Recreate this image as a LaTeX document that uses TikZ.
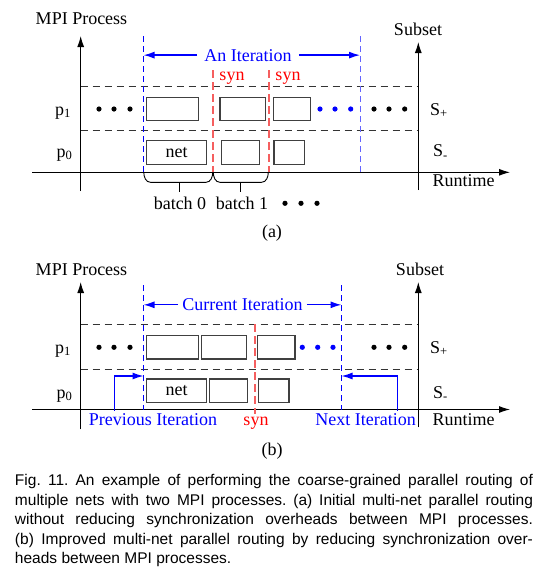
\documentclass[tikz,border=0pt]{standalone}
\usepackage{fontspec}
\setmainfont{Liberation Serif}
\newfontfamily\capfont{Liberation Sans}
\usetikzlibrary{arrows.meta,positioning}

\definecolor{synred}{RGB}{245,95,95}
\definecolor{lightblue}{RGB}{100,100,255}

\tikzset{
  box/.style={draw=black!75,line width=1.1pt,inner sep=0pt,minimum height=23.7pt},
  grid/.style={draw=black!80,line width=0.9pt,dash pattern=on 7pt off 5pt},
  axis/.style={line width=1pt,-{Latex[length=11pt,width=7pt]}},
  iterline/.style={draw=blue,line width=1pt,dash pattern=on 6pt off 4pt},
  synline/.style={draw=synred,line width=1.1pt,dash pattern=on 8pt off 4pt},
  iterarrow/.style={blue,line width=1.3pt,-{Latex[length=11pt,width=7pt]}},
  lbl/.style={anchor=base,inner sep=0pt},
}

\begin{document}
\begin{tikzpicture}[x=1pt,y=-1pt,font=\fontsize{18}{20}\selectfont]
\useasboundingbox (0,0) rectangle (551,574);

%%% (a)
\coordinate (La) at (80.7,191);  \coordinate (Lat) at (80.7,36);
\coordinate (Ra) at (418.3,190); \coordinate (Rat) at (418.3,42);
\coordinate (Ta) at (32,172.3);  \coordinate (Tat) at (510,172.3);
\draw[axis] (La) -- (Lat);
\draw[axis] (Ra) -- (Rat);
\draw[axis] (Ta) -- (Tat);
\draw[grid] (80.7,86) -- (418.3,86);
\draw[grid] (80.7,130.7) -- (418.3,130.7);

\node[lbl] (mpiA) at (81.5,24) {MPI Process};
\node[lbl] (subA) at (418,35) {Subset};
\node[lbl,anchor=base west] (p1A) at (55,115) {p\textsubscript{1}};
\node[lbl,anchor=base west] (p0A) at (56.5,157.3) {p\textsubscript{0}};
\node[lbl,anchor=base west] (spA) at (430,115) {S\textsubscript{+}};
\node[lbl,anchor=base west] (smA) at (433,156.7) {S\textsubscript{-}};
\node[lbl] (rtA) at (463.5,186.7) {Runtime};

% iteration bounds and sync points
\coordinate (b1a) at (143.5,36);  \draw[iterline] (b1a) -- (b1a |- Ta);
\coordinate (b2a) at (360,36);    \draw[iterline,draw=lightblue] (b2a) -- (b2a |- Ta);
\coordinate (s1a) at (213,70);    \draw[synline] (s1a) -- (s1a |- Ta);
\coordinate (s2a) at (269,70);    \draw[synline] (s2a) -- (s2a |- Ta);
\node[lbl,blue,inner xsep=7pt] (iterA) at (248,61) {An Iteration};
\draw[iterarrow] (iterA.west) -- (iterA.west -| b1a);
\draw[iterarrow] (iterA.east) -- (iterA.east -| b2a);
\node[lbl,red] (syn1A) at (232,80) {syn};
\node[lbl,red] (syn2A) at (288,80) {syn};

% nets
\node[box,minimum width=51.6pt] (a11) at (172.5,109) {};
\node[box,minimum width=45.7pt] (a12) at (242.8,109) {};
\node[box,minimum width=36.7pt] (a13) at (291.7,109) {};
\node[box,minimum width=60pt] (a01) at (176.6,152.5) {net};
\node[box,minimum width=38.2pt] (a02) at (240.6,152.5) {};
\node[box,minimum width=30.6pt] (a03) at (289.3,152.5) {};
\foreach \x in {99,114,130,374,389,404.7} \fill (\x,109) circle (2.6pt);
\foreach \x in {320,335,350.7} \fill[blue] (\x,109) circle (2.6pt);

% batches
\draw[line width=0.9pt] (143.8,172.3) to[out=-90,in=180] (150.5,182.3) -- (206,182.3) to[out=0,in=-90] (212.7,172.3);
\draw[line width=0.9pt] (213.3,172.3) to[out=-90,in=180] (220,182.3) -- (261.5,182.3) to[out=0,in=-90] (268.3,172.3);
\draw[line width=0.9pt] (179,182.3) -- (179,191.7);
\draw[line width=1.1pt] (240.7,182.3) -- (240.7,191.7);
\node[lbl] (bt0) at (180,209.3) {batch 0};
\node[lbl] (bt1) at (242,209.3) {batch 1};
\foreach \x in {285,301,317} \fill (\x,203.3) circle (2.6pt);
\node[lbl] (capA) at (272,237.3) {(a)};

%%% (b)
\coordinate (Lb) at (80.7,429.3);  \coordinate (Lbt) at (80.7,282);
\coordinate (Rb) at (418.3,427.3); \coordinate (Rbt) at (418.3,282);
\coordinate (Tb) at (32,409.5);    \coordinate (Tbt) at (510,409.5);
\draw[axis] (Lb) -- (Lbt);
\draw[axis] (Rb) -- (Rbt);
\draw[axis] (Tb) -- (Tbt);
\draw[grid] (80.7,324) -- (418.3,324);
\draw[grid] (80.7,369) -- (418.3,369);

\node[lbl] (mpiB) at (81.5,275) {MPI Process};
\node[lbl] (subB) at (420,275) {Subset};
\node[lbl,anchor=base west] (p1B) at (55,353.3) {p\textsubscript{1}};
\node[lbl,anchor=base west] (p0B) at (56.5,398.3) {p\textsubscript{0}};
\node[lbl,anchor=base west] (spB) at (430,353.3) {S\textsubscript{+}};
\node[lbl,anchor=base west] (smB) at (433,398) {S\textsubscript{-}};
\node[lbl] (rtB) at (463.5,425.5) {Runtime};

\coordinate (b1b) at (143.5,285); \draw[iterline] (b1b) -- (b1b |- Tb);
\coordinate (b2b) at (341.5,285); \draw[iterline] (b2b) -- (b2b |- Tb);
\coordinate (sb) at (255,324);    \draw[synline] (sb) -- (255,414);
\node[lbl,blue,inner xsep=4pt] (iterB) at (242.5,310.7) {Current Iteration};
\draw[iterarrow] (iterB.west) -- (iterB.west -| b1b);
\draw[iterarrow] (iterB.east) -- (iterB.east -| b2b);
\node[lbl,red] (synB) at (256,425.5) {syn};
\node[lbl,blue] (prevB) at (153,425.5) {Previous Iteration};
\node[lbl,blue] (nextB) at (365.7,425.5) {Next Iteration};
\coordinate (pv) at (114.8,410.5); \coordinate (nx) at (397.5,410.5);
\draw[iterarrow] (pv) |- (b1b |- 0,376);
\draw[iterarrow] (nx) |- (b2b |- 0,376);

\node[box,minimum width=51.6pt,minimum height=23.3pt] (b11) at (172.5,347.3) {};
\node[box,minimum width=45.4pt,minimum height=23.3pt] (b12) at (224,347.3) {};
\node[box,minimum width=37.3pt,minimum height=23.3pt] (b13) at (276.3,347.3) {};
\node[box,minimum width=60pt] (b01) at (176.6,390.8) {net};
\node[box,minimum width=37.8pt] (b02) at (228.8,390.8) {};
\node[box,minimum width=30.3pt] (b03) at (273.8,390.8) {};
\foreach \x in {99,114,130,374,389,404.7} \fill (\x,347.3) circle (2.6pt);
\foreach \x in {302.3,317.7,333} \fill[blue] (\x,347.3) circle (2.6pt);
\node[lbl] (capB) at (272,455) {(b)};

%%% caption
\node[anchor=north west,inner sep=0pt,text width=518pt,align=justify,
  font=\capfont\fontsize{15.5}{19.6}\selectfont\frenchspacing] (fig) at (14.8,474)
  {Fig. 11. An example of performing the coarse-grained parallel routing of\linebreak
   multiple nets with two MPI processes. (a) Initial multi-net parallel routing\linebreak
   without reducing synchronization overheads between MPI processes.\linebreak
   (b) Improved multi-net parallel routing by reducing synchronization over-\linebreak
   heads between MPI processes.\par};
\end{tikzpicture}
\end{document}
